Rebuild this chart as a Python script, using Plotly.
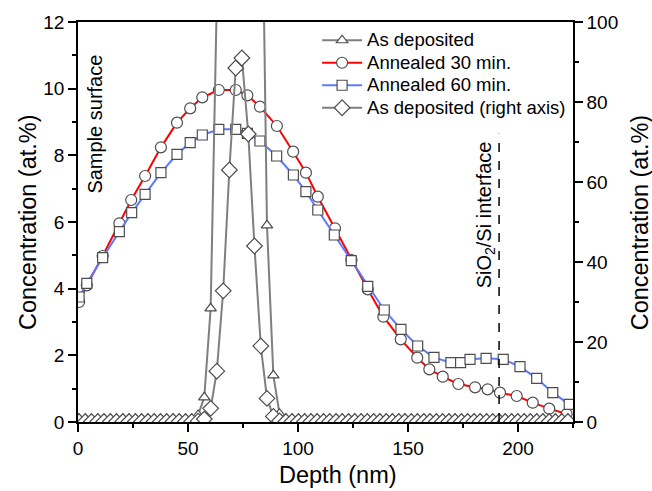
import plotly.graph_objects as go

# As deposited profile (same data drawn on left and right axes)
dep_depth = [0.4, 3.3, 6.1, 9.0, 11.8, 14.7, 17.5, 20.4, 23.2, 26.1, 28.9, 31.8, 34.6, 37.5,
             40.3, 43.2, 46.0, 48.9, 51.7, 54.6, 57.4, 60.3, 63.1, 66.0, 68.8, 71.7, 74.5,
             77.4, 80.2, 83.1, 85.9, 88.8, 91.6, 94.5, 97.3, 100.2, 103.0, 105.9, 108.7,
             111.6, 114.4, 117.3, 120.1, 123.0, 125.8, 128.7, 131.5, 134.4, 137.2, 140.1,
             142.9, 145.8, 148.6, 151.5, 154.3, 157.2, 160.0, 162.9, 165.7, 168.6, 171.4,
             174.3, 177.1, 180.0, 182.8, 185.7, 188.5, 191.4, 194.2, 197.1, 199.9, 202.8,
             205.6, 208.5, 211.3, 214.2, 217.0, 219.9, 222.7]
dep_conc = [0.1, 0.1, 0.1, 0.1, 0.1, 0.1, 0.1, 0.1, 0.1, 0.1, 0.1, 0.1, 0.1, 0.1,
            0.1, 0.1, 0.1, 0.1, 0.1, 0.21, 0.74, 3.41, 12.7, 32.8, 63.0, 88.5, 91.0,
            72.0, 44.0, 19.0, 5.9, 1.4, 0.25, 0.1, 0.1, 0.1, 0.1, 0.1, 0.1,
            0.1, 0.1, 0.1, 0.1, 0.1, 0.1, 0.1, 0.1, 0.1, 0.1, 0.1,
            0.1, 0.1, 0.1, 0.1, 0.1, 0.1, 0.1, 0.1, 0.1, 0.1, 0.1,
            0.1, 0.1, 0.1, 0.1, 0.1, 0.1, 0.1, 0.1, 0.1, 0.1, 0.1,
            0.1, 0.1, 0.1, 0.1, 0.1, 0.1, 0.1]

# Annealed 30 min
a30_depth = [0.5, 4.0, 11.2, 18.8, 24.2, 30.5, 37.7, 45.0, 51.0, 56.5, 64.0, 71.7, 77.0,
             82.7, 90.4, 97.8, 103.6, 109.0, 116.8, 124.3, 131.7, 138.8, 146.7, 154.2,
             159.7, 165.8, 172.9, 180.5, 186.2, 191.8, 199.4, 206.7, 214.2, 222.1]
a30_conc = [3.6, 4.1, 4.98, 5.96, 6.66, 7.38, 8.24, 8.98, 9.41, 9.74, 9.96, 9.96, 9.8,
            9.46, 8.88, 8.11, 7.48, 6.76, 5.81, 4.86, 3.98, 3.16, 2.48, 1.93,
            1.58, 1.36, 1.14, 1.04, 0.98, 0.88, 0.78, 0.58, 0.40, 0.24]

# Annealed 60 min
a60_depth = [0.5, 4.0, 11.2, 18.8, 24.4, 30.5, 37.7, 45.0, 51.0, 56.5, 64.0, 71.7, 77.0,
             82.7, 90.3, 97.9, 103.6, 109.0, 116.5, 124.2, 131.7, 139.2, 146.8, 154.4,
             161.8, 169.5, 173.9, 178.2, 185.5, 193.3, 200.9, 208.5, 215.8, 223.3]
a60_conc = [3.75, 4.16, 4.93, 5.71, 6.28, 6.83, 7.48, 8.03, 8.38, 8.61, 8.78, 8.78, 8.66,
            8.43, 7.98, 7.41, 6.91, 6.36, 5.61, 4.84, 4.07, 3.36, 2.78, 2.28,
            1.94, 1.78, 1.78, 1.88, 1.91, 1.88, 1.66, 1.31, 0.88, 0.53]

interface_depth = 191.4

FONT = "Arial, Liberation Sans, sans-serif"
GRAY = "#7f7f7f"
EDGE = "#4d4d4d"
TITLE_SIZE = 23.5


def _marker(symbol, size):
    return dict(symbol=symbol, size=size, color="white", line=dict(color=EDGE, width=1.2))


def _label(text):
    # bigger legend text than the row spacing the legend font would give
    return f'<span style="font-size:18.5px">{text}</span>'


def _title(text, x, y, angle=0):
    fig.add_annotation(x=x, y=y, xref="paper", yref="paper", text=text, textangle=angle,
                       xanchor="center", yanchor="middle", showarrow=False,
                       font=dict(size=TITLE_SIZE, color="black"))


fig = go.Figure()

fig.add_trace(go.Scatter(
    x=a30_depth, y=a30_conc, name=_label("Annealed 30 min."), mode="lines+markers",
    line=dict(color="#ff0000", width=2), marker=_marker("circle", 11),
    legendrank=2,
))
fig.add_trace(go.Scatter(
    x=a60_depth, y=a60_conc, name=_label("Annealed 60 min."), mode="lines+markers",
    line=dict(color="#5b7bff", width=2), marker=_marker("square", 10),
    legendrank=3,
))
fig.add_trace(go.Scatter(
    x=dep_depth, y=dep_conc, name=_label("As deposited"), mode="lines+markers",
    line=dict(color=GRAY, width=2), marker=_marker("triangle-up", 10),
    legendrank=1,
))
fig.add_trace(go.Scatter(
    x=dep_depth, y=dep_conc, name=_label("As deposited (right axis)"), mode="lines+markers",
    line=dict(color=GRAY, width=2), marker=_marker("diamond", 12),
    yaxis="y2", legendrank=4,
))

fig.add_shape(type="line", x0=interface_depth, x1=interface_depth, y0=0, y1=8.65,
              xref="x", yref="y", line=dict(color="black", width=1.5, dash="dash"))

fig.add_annotation(x=7.7, y=8.95, xref="x", yref="y", text="Sample surface",
                   textangle=-90, showarrow=False, font=dict(size=20, color="black"))
fig.add_annotation(x=185.0, y=6.2, xref="x", yref="y", text="SiO<sub>2</sub>/Si interface",
                   textangle=-90, showarrow=False, font=dict(size=20, color="black"))

# axis titles
_title("Concentration (at.%)", -0.101, 0.5, -90)
_title("Concentration (at.%)", 1.136, 0.5, -90)
_title("Depth (nm)", 0.525, -0.1325)

axis_common = dict(
    showline=True, linecolor="black", linewidth=1.5, showgrid=False, zeroline=False,
    ticks="outside", ticklen=8, tickwidth=1.5, tickcolor="black",
    tickfont=dict(size=19, color="black"), automargin=False,
)

fig.update_layout(
    width=652, height=491,
    margin=dict(l=78, r=79, t=22, b=69),
    plot_bgcolor="white", paper_bgcolor="white",
    font=dict(family=FONT, color="black"),
    xaxis=dict(
        range=[0, 225], dtick=50, mirror=True,
        minor=dict(dtick=25, ticks="outside", ticklen=4, tickcolor="black", tickwidth=1.5),
        **axis_common,
    ),
    yaxis=dict(
        range=[0, 12], dtick=2,
        minor=dict(dtick=1, ticks="outside", ticklen=4, tickcolor="black", tickwidth=1.5),
        **axis_common,
    ),
    yaxis2=dict(
        range=[0, 100], dtick=20, overlaying="y", side="right",
        minor=dict(dtick=10, ticks="outside", ticklen=4, tickcolor="black", tickwidth=1.5),
        **axis_common,
    ),
    legend=dict(
        x=0.483, y=0.995, xanchor="left", yanchor="top",
        bgcolor="rgba(0,0,0,0)", font=dict(size=15), tracegroupgap=0,
        itemwidth=40,
    ),
    showlegend=True,
)

# drop the default 8px body margin so the figure fills the window exactly
fig.write_html(
    "out.html",
    config={"displayModeBar": False},
    post_script="document.body.style.margin = '0';",
)
